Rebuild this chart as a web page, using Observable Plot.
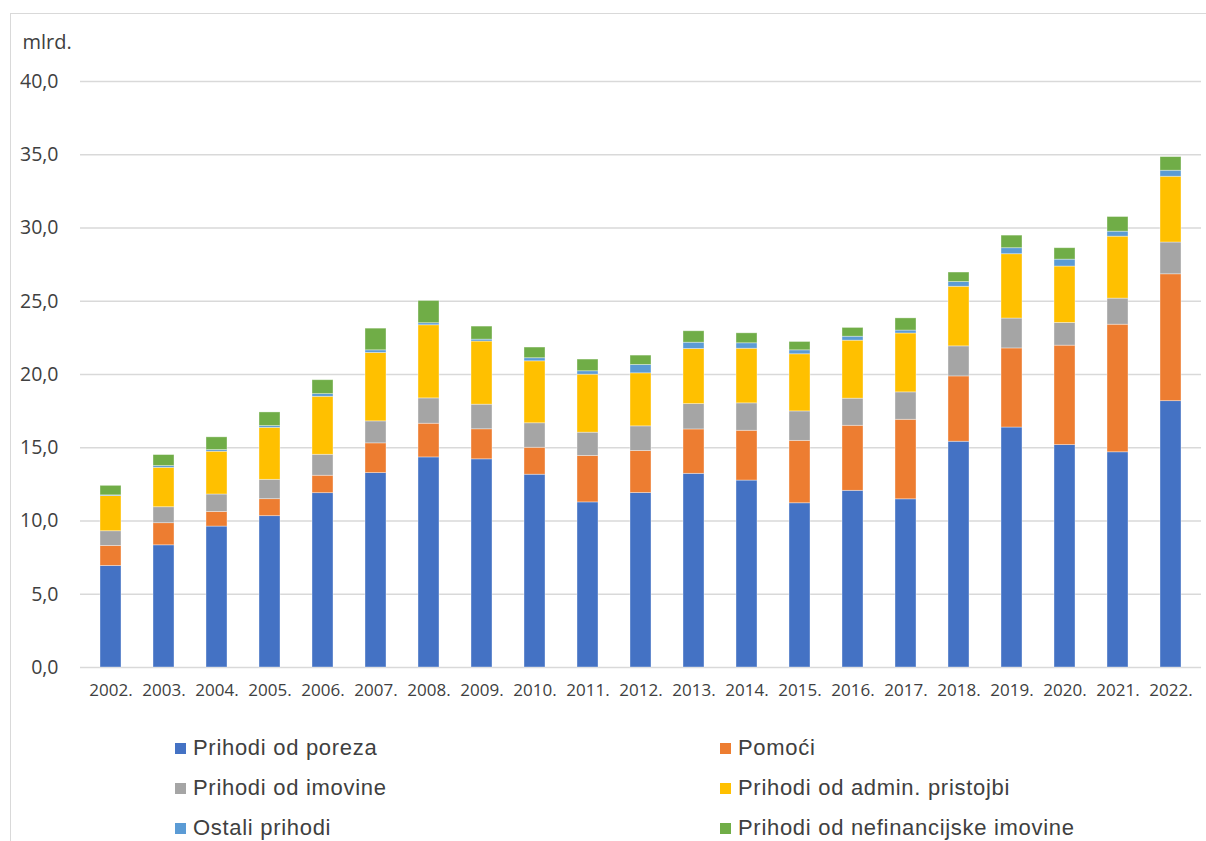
<!DOCTYPE html>
<html>
<head>
<meta charset="utf-8">
<script src="https://cdn.jsdelivr.net/npm/d3@7"></script>
<script src="https://cdn.jsdelivr.net/npm/@observablehq/plot@0.6"></script>
<style>
  html, body { margin: 0; padding: 0; background: #fff; }
  #wrap { position: relative; width: 1206px; height: 841px; overflow: hidden; }
  #frame { position: absolute; left: 10px; top: 13px; width: 1220px; height: 860px; border: 1px solid #d9d9d9; box-sizing: border-box; pointer-events: none; }
  #chart { position: absolute; left: 0; top: 0; }
  .legend-item { position: absolute; font-family: "Liberation Sans", Arial, sans-serif; font-size: 22px; letter-spacing: 0.7px; color: #404040; line-height: 1; white-space: nowrap; }
  .legend-item .sw { position: absolute; left: 0; top: 50%; width: 11px; height: 11px; margin-top: -5px; }
  .legend-item .lb { position: absolute; left: 18px; top: 50%; transform: translateY(-50%); }
</style>
</head>
<body>
<div id="wrap">
  <div id="chart"></div>
  <div id="frame"></div>
  <div id="legend"></div>
</div>
<script>
const years = ["2002.","2003.","2004.","2005.","2006.","2007.","2008.","2009.","2010.","2011.","2012.","2013.","2014.","2015.","2016.","2017.","2018.","2019.","2020.","2021.","2022."];
const seriesNames = ["Prihodi od poreza","Pomoći","Prihodi od imovine","Prihodi od admin. pristojbi","Ostali prihodi","Prihodi od nefinancijske imovine"];
const seriesColors = ["#4472C4","#ED7D31","#A5A5A5","#FFC000","#5B9BD5","#70AD47"];
const prihodiOdPoreza = [6.93,8.34,9.62,10.33,11.90,13.27,14.34,14.21,13.16,11.27,11.91,13.22,12.76,11.21,12.06,11.48,15.41,16.38,15.18,14.69,18.18];
const pomoci = [1.37,1.51,1.00,1.16,1.19,2.03,2.30,2.05,1.84,3.17,2.87,3.03,3.40,4.26,4.44,5.43,4.46,5.40,6.79,8.71,8.66];
const prihodiOdImovine = [1.00,1.09,1.19,1.32,1.43,1.50,1.73,1.68,1.67,1.59,1.68,1.73,1.87,2.01,1.85,1.87,2.05,2.04,1.55,1.78,2.17];
const adminPristojbe = [2.40,2.69,2.92,3.55,3.96,4.67,4.99,4.31,4.23,3.96,3.62,3.76,3.73,3.90,3.96,4.02,4.07,4.39,3.85,4.23,4.49];
const ostaliPrihodi = [0.05,0.12,0.11,0.12,0.18,0.18,0.14,0.13,0.21,0.23,0.57,0.43,0.37,0.27,0.27,0.20,0.32,0.41,0.47,0.34,0.41];
const nefinancijskaImovina = [0.65,0.75,0.87,0.93,0.95,1.48,1.52,0.89,0.73,0.80,0.64,0.78,0.68,0.57,0.60,0.83,0.65,0.86,0.78,1.00,0.93];
const yTicks = [0,5,10,15,20,25,30,35,40];
const yLabel = "mlrd.";

const seriesValues = [prihodiOdPoreza, pomoci, prihodiOdImovine, adminPristojbe, ostaliPrihodi, nefinancijskaImovina];
const data = [];
seriesNames.forEach((s, si) => {
  years.forEach((yr, i) => data.push({year: yr, series: s, value: seriesValues[si][i]}));
});

const tickFont = "'Open Sans', sans-serif";
const chart = Plot.plot({
  width: 1206,
  height: 712,
  marginLeft: 80,
  marginRight: 5,
  marginTop: 81,
  marginBottom: 45,
  style: {background: "transparent", color: "#595959", fontFamily: tickFont},
  x: {domain: years, paddingInner: 0.6, paddingOuter: 0.3, label: null},
  y: {domain: [0, 40], label: null},
  color: {domain: seriesNames, range: seriesColors},
  marks: [
    Plot.gridY(yTicks, {stroke: "#d9d9d9", strokeOpacity: 1, strokeWidth: 1.5}),
    Plot.barY(data, {x: "year", y: "value", fill: "series", stroke: "#ffffff", strokeOpacity: 0.45, strokeWidth: 0.8}),
    Plot.axisX({tickSize: 0, tickPadding: 16, fontSize: 17, fill: "#404040", label: null}),
    Plot.axisY(yTicks, {tickSize: 0, tickPadding: 22, fontSize: 19.5, fill: "#404040", label: null,
      tickFormat: d => d.toFixed(1).replace(".", ",")}),
    Plot.text([yLabel], {frameAnchor: "top-left", dx: -58, dy: -47, textAnchor: "start", fontSize: 20, fill: "#404040"})
  ]
});
document.getElementById("chart").appendChild(chart);

const legend = document.getElementById("legend");
const colX = [175, 720];
const rowY = [748, 788, 828];
seriesNames.forEach((s, i) => {
  const item = document.createElement("div");
  item.className = "legend-item";
  item.style.left = colX[i % 2] + "px";
  item.style.top = (rowY[Math.floor(i / 2)] - 15) + "px";
  item.style.height = "30px";
  const sw = document.createElement("span");
  sw.className = "sw";
  sw.style.background = seriesColors[i];
  const lb = document.createElement("span");
  lb.className = "lb";
  lb.textContent = s;
  item.appendChild(sw);
  item.appendChild(lb);
  legend.appendChild(item);
});
</script>
</body>
</html>
